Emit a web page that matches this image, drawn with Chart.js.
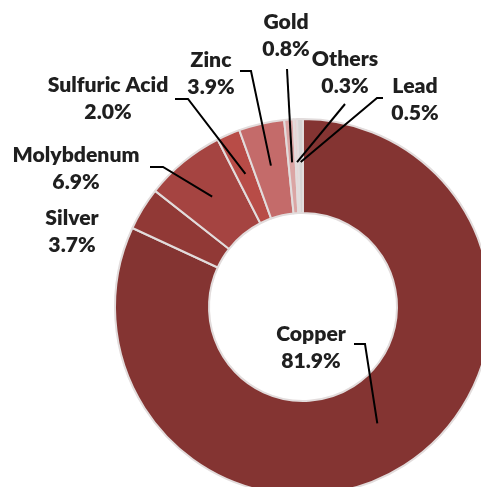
<!DOCTYPE html>
<html><head><meta charset="utf-8">
<script src="https://cdn.jsdelivr.net/npm/chart.js@4/dist/chart.umd.min.js"></script>
<style>
html,body{margin:0;padding:0;overflow:hidden;background:#fff;width:481px;height:487px}
#wrap{position:absolute;left:0;top:0;width:500px;height:500px}
</style>
</head><body>
<div id="wrap"><canvas id="c" width="500" height="500"></canvas></div>
<script>
// ---- data ----
const categories = ['Copper', 'Silver', 'Molybdenum', 'Sulfuric Acid', 'Zinc', 'Gold', 'Others', 'Lead'];
const shares = [81.9, 3.7, 6.9, 2.0, 3.9, 0.8, 0.3, 0.5];

// ---- styles ----
const sliceColors = ['#843432', '#913936', '#a54441', '#b84c47', '#c46b6a', '#dba5a4', '#ead2d2', '#d6d3d3'];
const textColor = '#1f1f1f';
const fontWeight = '800';

// ---- label layout (text center x, first baseline y, leader elbow points, leader end radius) ----
const labelLayout = {
  'Copper':        {x: 311, y: 341, pts: [[354, 344], [365, 344]], r: 138},
  'Silver':        {x: 72,  y: 225, pts: null},
  'Molybdenum':    {x: 76,  y: 162, pts: [[150, 167], [163, 167]], r: 143},
  'Sulfuric Acid': {x: 108, y: 92,  pts: [[175, 99], [188, 99]], r: 145},
  'Zinc':          {x: 211, y: 67,  pts: [[240, 71], [251, 71]], r: 145},
  'Gold':          {x: 286, y: 29,  pts: [[287, 69]], r: 145},
  'Others':        {x: 345, y: 66,  pts: [[345, 104]], r: 145},
  'Lead':          {x: 415, y: 93,  pts: [[383, 98], [377, 98]], r: 145}
};
const lineGap = 27;

function fontSize(ctx) {
  ctx.font = fontWeight + ' 100px Lato';
  const w = ctx.measureText('Molybdenum').width;
  return 100 * 127 / w;
}

const labelPlugin = {
  id: 'labels',
  afterDraw(chart) {
    const ctx = chart.ctx;
    const meta = chart.getDatasetMeta(0);
    ctx.save();
    const fs = fontSize(ctx);
    // leader lines
    ctx.strokeStyle = '#000';
    ctx.lineWidth = 2;
    ctx.lineJoin = 'miter';
    categories.forEach((cat, i) => {
      const L = labelLayout[cat];
      if (!L.pts) return;
      const arc = meta.data[i];
      const mid = (arc.startAngle + arc.endAngle) / 2;
      const ex = arc.x + L.r * Math.cos(mid);
      const ey = arc.y + L.r * Math.sin(mid);
      ctx.beginPath();
      ctx.moveTo(L.pts[0][0], L.pts[0][1]);
      for (let k = 1; k < L.pts.length; k++) ctx.lineTo(L.pts[k][0], L.pts[k][1]);
      ctx.lineTo(ex, ey);
      ctx.stroke();
    });
    // texts
    ctx.fillStyle = textColor;
    ctx.font = fontWeight + ' ' + fs.toFixed(2) + 'px Lato';
    ctx.textAlign = 'center';
    ctx.textBaseline = 'alphabetic';
    categories.forEach((cat, i) => {
      const L = labelLayout[cat];
      ctx.fillText(cat, L.x, L.y);
      ctx.fillText(shares[i].toFixed(1) + '%', L.x, L.y + lineGap);
    });
    ctx.restore();
  }
};

new Chart(document.getElementById('c'), {
  type: 'doughnut',
  data: {
    labels: categories,
    datasets: [{
      data: shares,
      backgroundColor: sliceColors,
      borderColor: '#e2dcdc',
      borderWidth: 2
    }]
  },
  options: {
    responsive: false,
    animation: false,
    cutout: '50%',
    layout: {padding: {left: 114, top: 118, right: 8, bottom: 4}},
    plugins: {legend: {display: false}, tooltip: {enabled: false}}
  },
  plugins: [labelPlugin]
});
</script>
</body></html>
